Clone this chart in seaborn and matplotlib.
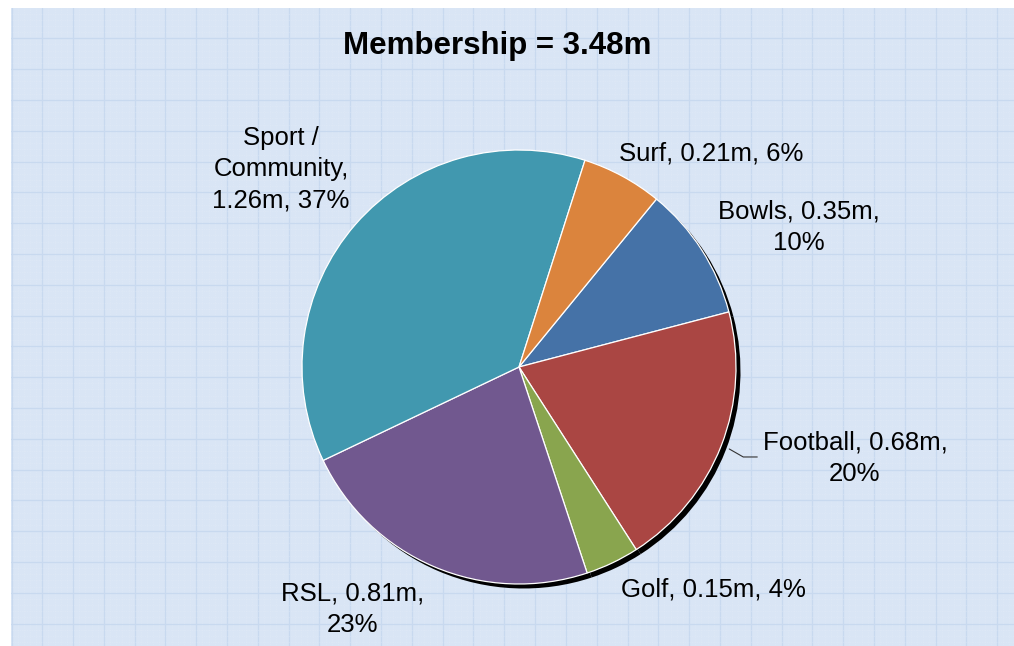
import matplotlib
matplotlib.use("Agg")
import matplotlib.pyplot as plt
from matplotlib.ticker import MultipleLocator
import numpy as np
import seaborn as sns

# Club membership by club type (millions of members, share of total)
categories = ["Bowls", "Football", "Golf", "RSL", "Sport /\nCommunity", "Surf"]
members_m = [0.35, 0.68, 0.15, 0.81, 1.26, 0.21]
share_pct = [10, 20, 4, 23, 37, 6]
total_m = 3.48
slice_colors = ["#4572A7", "#AA4643", "#89A54E", "#71588F", "#4198AF", "#DB843D"]

# where each label wraps: after the value ("pct"), after the name ("value") or not at all
label_breaks = ["pct", "pct", "none", "pct", "value", "none"]
# label centres in figure pixels (x from left, y from top)
label_xy = [(799, 227), (855, 458), (713, 590), (353, 609), (281, 169), (711, 154)]

sns.set_theme(style="white")
plt.rcParams["font.family"] = ["Liberation Sans", "DejaVu Sans"]

W, H = 1014, 646
fig = plt.figure(figsize=(W / 100, H / 100), dpi=100, facecolor="white")

# graph-paper backdrop
bg_left, bg_top = 11, 8
bg = fig.add_axes([bg_left / W, 0, (W - bg_left) / W, (H - bg_top) / H])
bg.set_facecolor("#D9E5F5")
bg.set_xlim(-0.5, W - bg_left - 0.5)
bg.set_ylim(H - bg_top + 0.5, 0.5)
step = 30.8
for axis in (bg.xaxis, bg.yaxis):
    axis.set_major_locator(MultipleLocator(step))
    axis.set_minor_locator(MultipleLocator(step / 5))
bg.grid(which="major", color="#C8D9EF", linewidth=0.9)
bg.grid(which="minor", color="#E4ECF8", linewidth=0.5, linestyle=(0, (1, 1.5)), alpha=0.7)
bg.tick_params(which="both", length=0, labelbottom=False, labelleft=False)
for s in bg.spines.values():
    s.set_visible(False)

# pie layer in pixel units (y up)
ax = fig.add_axes([0, 0, 1, 1])
ax.set_xlim(0, W)
ax.set_ylim(0, H)
ax.set_aspect("equal")
ax.axis("off")
ax.patch.set_alpha(0)

cx, cy, R = 519, H - 367, 217
start = 50.7

# drop shadow
ax.pie(share_pct, colors=["black"] * len(share_pct), center=(cx + 4.5, cy - 4.5), radius=R,
       startangle=start, counterclock=False, wedgeprops=dict(linewidth=0))
wedges, _ = ax.pie(share_pct, colors=sns.color_palette(slice_colors), center=(cx, cy),
                   radius=R, startangle=start, counterclock=False,
                   wedgeprops=dict(edgecolor="white", linewidth=0.9))
ax.set_xlim(0, W)
ax.set_ylim(0, H)

for name, val, pct, brk, (lx, ly) in zip(categories, members_m, share_pct, label_breaks, label_xy):
    if brk == "pct":
        txt = f"{name}, {val:.2f}m,\n{pct}%"
    elif brk == "value":
        txt = f"{name},\n{val:.2f}m, {pct}%"
    else:
        txt = f"{name}, {val:.2f}m, {pct}%"
    ax.text(lx, H - ly, txt, ha="center", va="center", multialignment="center",
            fontsize=18.5, color="black", linespacing=1.37)

# leader line for the Football label
w = wedges[categories.index("Football")]
mid = np.deg2rad((w.theta1 + w.theta2) / 2)
p0 = (cx + 1.04 * R * np.cos(mid), cy + 1.04 * R * np.sin(mid))
ax.plot([p0[0], p0[0] + 14, p0[0] + 28], [p0[1], p0[1] - 8, p0[1] - 8],
        color="#333333", linewidth=0.8)

ax.text(497.5, H - 46, f"Membership = {total_m:.2f}m", ha="center", va="center",
        fontsize=22.5, fontweight="bold", color="black")

fig.savefig("out.png", dpi=100, facecolor="white")
